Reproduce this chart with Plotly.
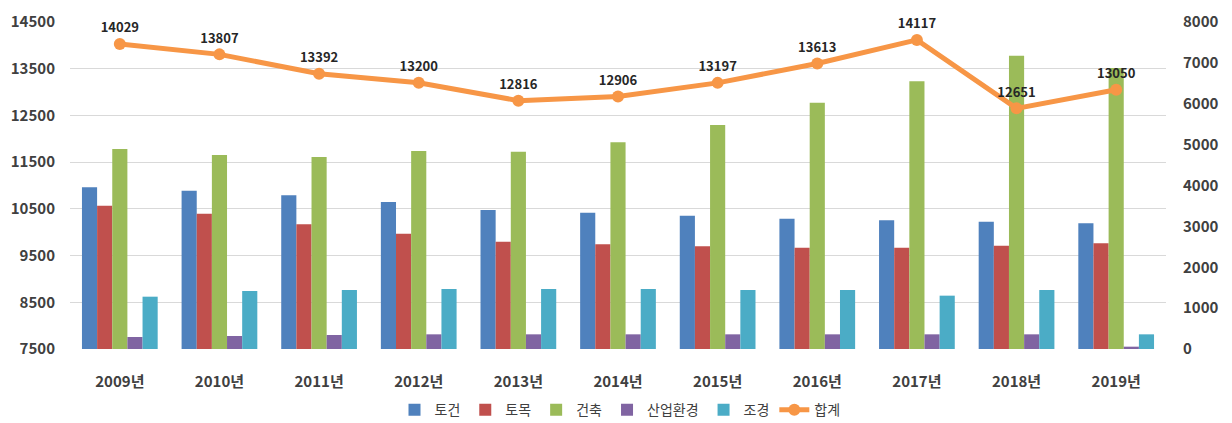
import plotly.graph_objects as go

years = ["2009년", "2010년", "2011년", "2012년", "2013년", "2014년",
         "2015년", "2016년", "2017년", "2018년", "2019년"]
togeon = [3956, 3873, 3760, 3596, 3400, 3335, 3262, 3188, 3148, 3115, 3074]
tomok = [3506, 3310, 3050, 2821, 2626, 2561, 2512, 2479, 2479, 2528, 2585]
geonchuk = [4893, 4746, 4697, 4844, 4827, 5056, 5480, 6026, 6548, 7176, 6875]
saneop = [294, 318, 342, 359, 359, 359, 359, 359, 359, 359, 57]
jogyeong = [1280, 1419, 1443, 1468, 1468, 1468, 1443, 1443, 1305, 1443, 359]
total = [14029, 13807, 13392, 13200, 12816, 12906, 13197, 13613, 14117, 12651, 13050]

FONT = "Noto Sans CJK KR"
TXT = "#404040"

fig = go.Figure()
bar_series = [
    ("토건", togeon, "#4F81BD"),
    ("토목", tomok, "#C0504D"),
    ("건축", geonchuk, "#9BBB59"),
    ("산업환경", saneop, "#8064A2"),
    ("조경", jogyeong, "#4BACC6"),
]
for name, vals, col in bar_series:
    fig.add_trace(go.Bar(x=years, y=vals, name=name, marker_color=col,
                         marker_line_width=0, yaxis="y"))

fig.add_trace(go.Scatter(
    x=years, y=total, name="합계", yaxis="y2", mode="lines+markers+text",
    line=dict(color="#F79646", width=5),
    marker=dict(color="#F79646", size=12),
    text=[str(v) for v in total], textposition="top center",
    textfont=dict(family=FONT, size=13, color="#262626", weight="bold"),
    cliponaxis=False,
))

tf = dict(family=FONT, size=15, color=TXT, weight="bold")
fig.update_layout(
    width=1224, height=415,
    margin=dict(l=62, r=66, t=14, b=74, autoexpand=False),
    paper_bgcolor="white", plot_bgcolor="white",
    barmode="group", bargap=0.24, bargroupgap=0,
    font=dict(family=FONT, color=TXT),
    xaxis=dict(showgrid=False, showline=False, ticks="", tickfont=tf,
               range=[-0.5, len(years) - 0.5],
               ticklabelstandoff=22, automargin=False),
    yaxis=dict(side="right", range=[0, 8000], tick0=0, dtick=1000,
               tickformat="d", showgrid=False, zeroline=False, tickfont=tf,
               ticklabelstandoff=16, automargin=False),
    yaxis2=dict(side="left", overlaying="y", range=[7500, 14500], tick0=7500,
                dtick=1000, tickformat="d", showgrid=True, gridcolor="#D9D9D9",
                gridwidth=1, zeroline=False, tickfont=tf,
                ticklabelstandoff=14, automargin=False),
    legend=dict(orientation="h", xref="container", yref="container",
                x=0.5, xanchor="center", y=0.031, yanchor="middle",
                font=dict(family=FONT, size=14, color=TXT),
                itemwidth=30, tracegroupgap=0),
    showlegend=True,
)

fig.write_html("out.html")
